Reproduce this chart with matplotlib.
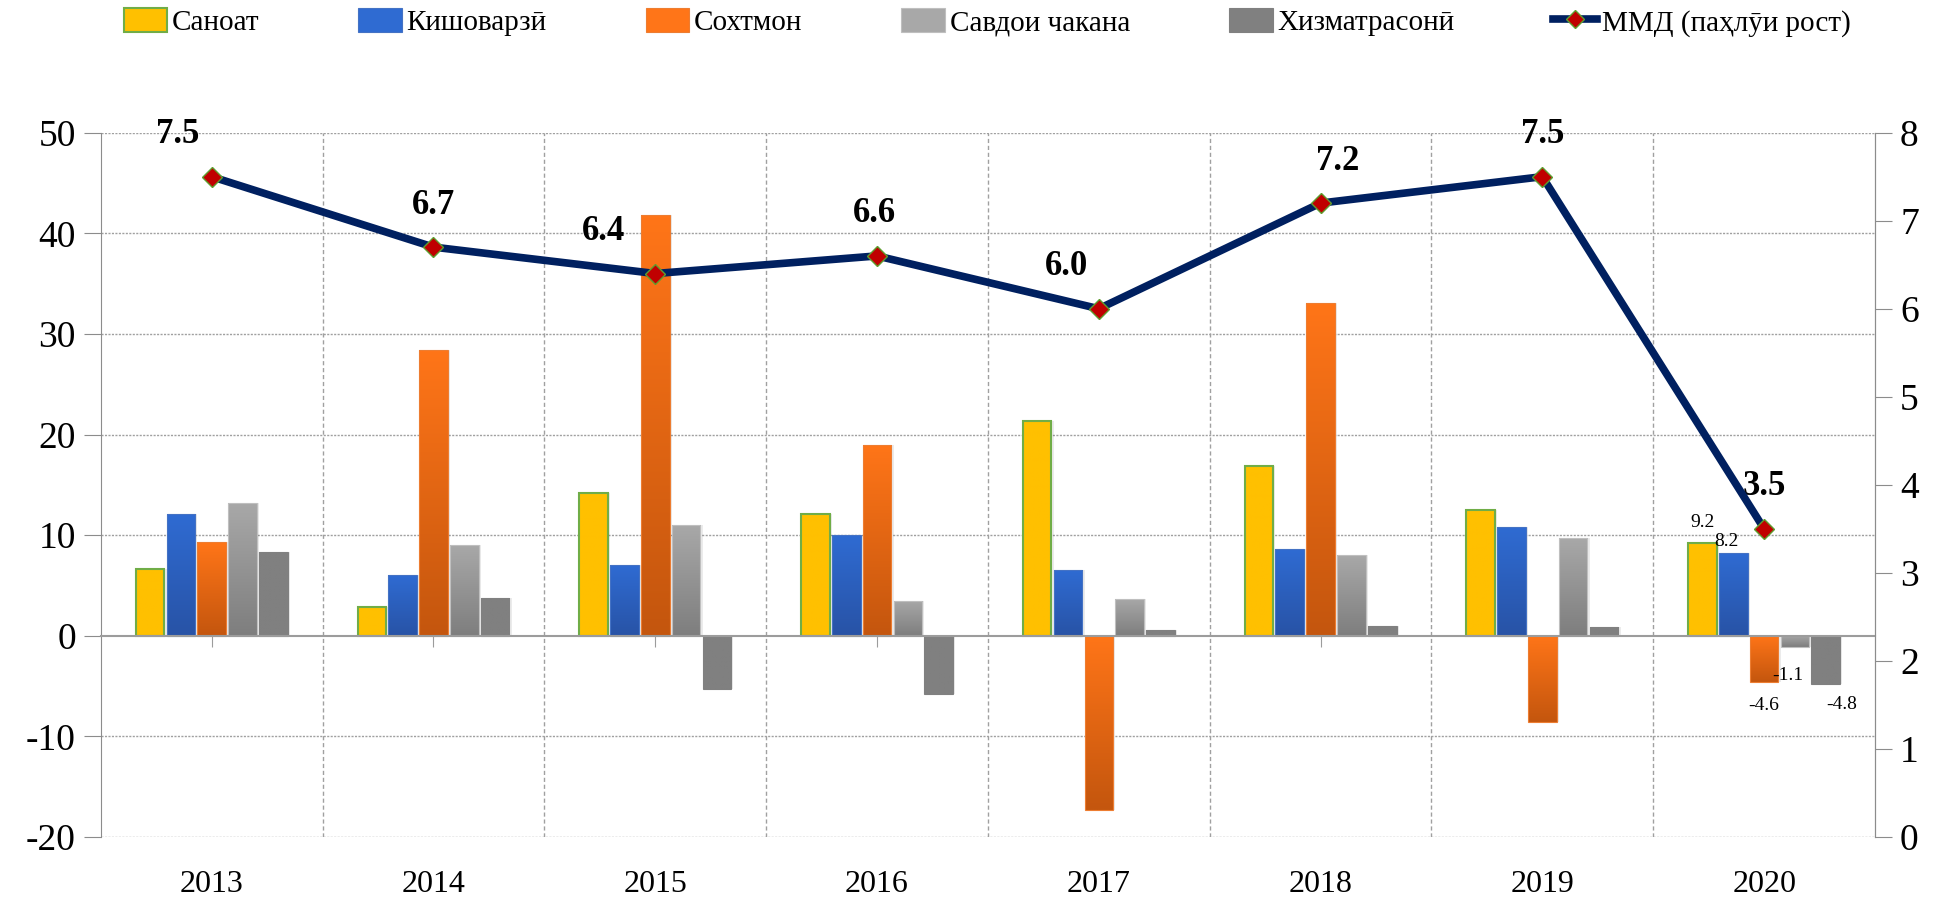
import numpy as np
import matplotlib.pyplot as plt
from matplotlib.lines import Line2D
from matplotlib.patches import Patch
from matplotlib import transforms
from matplotlib.colors import to_rgb

plt.rcParams['font.family'] = ['Liberation Serif', 'DejaVu Serif']
plt.rcParams['axes.unicode_minus'] = False

years = ['2013', '2014', '2015', '2016', '2017', '2018', '2019', '2020']
sanoat = [6.6, 2.9, 14.2, 12.1, 21.3, 16.9, 12.5, 9.2]
kishovarzi = [12.1, 6.0, 7.0, 10.0, 6.5, 8.6, 10.8, 8.2]
sokhtmon = [9.3, 28.4, 41.8, 19.0, -17.3, 33.1, -8.6, -4.6]
savdo = [13.2, 9.0, 11.0, 3.5, 3.7, 8.0, 9.7, -1.1]
khizmat = [8.3, 3.8, -5.3, -5.8, 0.6, 1.0, 0.9, -4.8]
gdp = [7.5, 6.7, 6.4, 6.6, 6.0, 7.2, 7.5, 3.5]

names = ['Саноат', 'Кишоварзӣ', 'Сохтмон', 'Савдои чакана', 'Хизматрасонӣ']
line_name = 'ММД (паҳлӯи рост)'

# colours: (top, bottom) of the gradient
grad = [('#FFC000', '#FFC000'), ('#2F6BD2', '#2853A6'), ('#FF7518', '#C4560E'),
        ('#A8A8A8', '#7E7E7E'), ('#808080', '#808080')]
edges = ['#70AD47', '#4472C4', '#ED7D31', '#BFBFBF', '#808080']

fig = plt.figure(figsize=(19.39, 9), dpi=100)
ax = fig.add_axes([0.052, 0.07, 0.915, 0.7826])
x = np.arange(len(years))
step = 0.139
width = 0.129
series = [sanoat, kishovarzi, sokhtmon, savdo, khizmat]

for i, vals in enumerate(series):
    pos = x + (i - 2) * step
    bars = ax.bar(pos, vals, width, color='none', edgecolor=edges[i],
                  linewidth=1.5 if i == 0 else 0.8, zorder=4)
    c1 = np.array(to_rgb(grad[i][0]))
    c2 = np.array(to_rgb(grad[i][1]))
    for b in bars:
        x0 = b.get_x()
        y0 = b.get_y()
        h = b.get_height()
        ylo, yhi = min(y0, y0 + h), max(y0, y0 + h)
        t = np.linspace(0, 1, 64)[:, None, None]
        img = c1 * (1 - t) + c2 * t
        im = ax.imshow(img, extent=(x0, x0 + b.get_width(), ylo, yhi),
                       aspect='auto', origin='upper', zorder=3,
                       interpolation='bilinear')
        im.set_clip_path(b)
        # soft shadow
        ax.bar(b.get_x() + b.get_width() / 2 + 0.01, h, b.get_width(), bottom=y0,
               color='#000000', alpha=0.08, zorder=2, linewidth=0)

ax.set_xlim(-0.5, 7.5)
ax.set_ylim(-20, 50)
ax.set_aspect('auto')
ax.set_yticks(range(-20, 51, 10))
ax.tick_params(axis='y', labelsize=27, length=12, color='#8C8C8C', pad=6)
for v in range(-20, 51, 10):
    if v != 0:
        ax.axhline(v, color='#A0A0A0', lw=1, ls=(0, (1.5, 1)), zorder=1)
for v in np.arange(0.5, 7, 1):
    ax.axvline(v, color='#A0A0A0', lw=1, ls=(0, (3, 2)), zorder=1)

ax.spines['top'].set_visible(False)
ax.spines['right'].set_color('#8C8C8C')
ax.spines['left'].set_color('#8C8C8C')
ax.spines['bottom'].set_position(('data', 0))
ax.spines['bottom'].set_color('#9C9C9C')
ax.spines['bottom'].set_linewidth(1.5)
ax.spines['bottom'].set_zorder(5)
ax.set_xticks(x)
ax.set_xticklabels([])
ax.tick_params(axis='x', length=8, color='#9C9C9C', direction='out')

trans = transforms.blended_transform_factory(ax.transData, ax.transAxes)
off = transforms.offset_copy(trans, fig=fig, x=0, y=-48, units='dots')
for xi, yr in zip(x, years):
    ax.text(xi, 0, yr, transform=off, ha='center', va='center', fontsize=23)

# labels for the last year only
last = len(years) - 1
ax.text(last - 2 * step, sanoat[last] + 1.2, f'{sanoat[last]}', ha='center', va='bottom', fontsize=14, zorder=6)
ax.text(last - step - 0.03, kishovarzi[last] + 0.3, f'{kishovarzi[last]}', ha='center', va='bottom', fontsize=14, zorder=6)
ax.text(last, sokhtmon[last] - 1.5, f'{sokhtmon[last]}', ha='center', va='top', fontsize=14, zorder=6)
ax.text(last + step - 0.03, savdo[last] - 2.0, f'{savdo[last]}', ha='center', va='top', fontsize=14, zorder=6)
ax.text(last + 2 * step + 0.07, khizmat[last] - 1.2, f'{khizmat[last]}', ha='center', va='top', fontsize=14, zorder=6)

ax2 = ax.twinx()
ax2.set_ylim(0, 8)
ax2.set_yticks(range(0, 9))
ax2.tick_params(axis='y', labelsize=27, length=12, color='#8C8C8C', pad=6)
for s in ['top', 'left', 'bottom']:
    ax2.spines[s].set_visible(False)
ax2.spines['right'].set_color('#8C8C8C')
ax2.plot(x, gdp, color='#002060', lw=5.5, marker='D', markersize=10,
         markerfacecolor='#C00000', markeredgecolor='#5E9E2F', markeredgewidth=1,
         solid_joinstyle='round', zorder=5)
label_dx = [-34, 0, -52, -3, -32, 17, 0, 0]
for xi, v, dx in zip(x, gdp, label_dx):
    ax2.annotate(f'{v:.1f}', (xi, v), xytext=(dx, 42), textcoords='offset pixels',
                 ha='center', va='center', fontsize=25, fontweight='bold')

handles = [Patch(facecolor=grad[i][0], edgecolor=edges[i], linewidth=1.5 if i == 0 else 0.8)
           for i in range(5)]
handles.append(Line2D([0], [0], color='#002060', lw=5.5, marker='D', markersize=9,
                      markerfacecolor='#C00000', markeredgecolor='#5E9E2F'))
fig.legend(handles, names + [line_name], loc='center', bbox_to_anchor=(0.509, 0.975),
           ncol=6, frameon=False, fontsize=21, handlelength=1.5, handleheight=0.9,
           handletextpad=0.15, columnspacing=3.4)

fig.savefig('out.png', dpi=100)
